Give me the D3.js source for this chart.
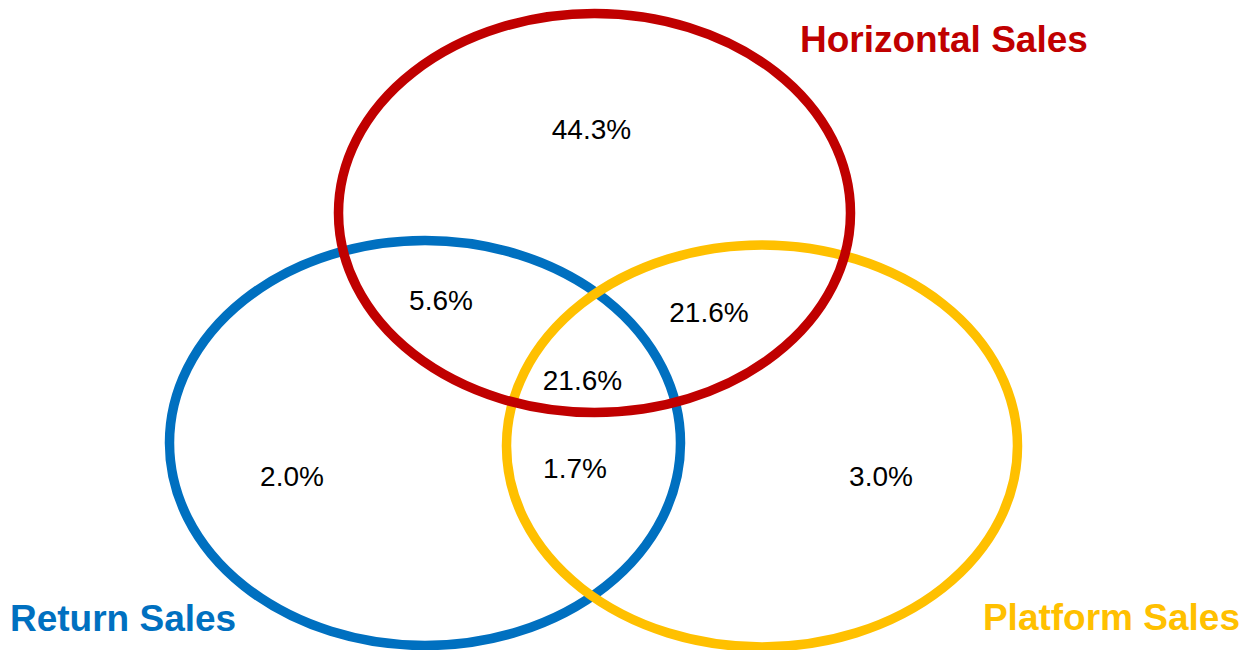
<!DOCTYPE html>
<html>
<head>
<meta charset="utf-8">
<script src="https://cdn.jsdelivr.net/npm/d3@7"></script>
<style>
  body { margin: 0; background: #fff; }
  text { font-family: "Liberation Sans", Arial, sans-serif; }
</style>
</head>
<body>
<div id="canvas"></div>
<script>
// sets and region shares
const setNames = ["Return Sales", "Platform Sales", "Horizontal Sales"];
const setColors = ["#0070C0", "#FFC000", "#C00000"];
const regionSets = [["H"], ["R", "H"], ["P", "H"], ["R", "P", "H"], ["R"], ["R", "P"], ["P"]];
const regionValues = [44.3, 5.6, 21.6, 21.6, 2.0, 1.7, 3.0];

const width = 1247, height = 650;

// layout in venn units, mapped through scales
const x = d3.scaleLinear().domain([0, 100]).range([0, width]);
const y = d3.scaleLinear().domain([0, 100]).range([0, height]);
const setKeys = ["R", "P", "H"];
const ellipseLayout = {
    R: {cx: 425 / width * 100, cy: 443 / height * 100},
    P: {cx: 762 / width * 100, cy: 446 / height * 100},
    H: {cx: 594.5 / width * 100, cy: 213 / height * 100}
};
const radii = {R: [255.5, 202.5], P: [255.5, 201], H: [256, 199.5]};
const labelLayout = [[591.5, 139], [441, 310], [709, 322], [582.5, 390], [292, 486], [575, 478], [881, 486]];
const titleLayout = {R: [10, 631, "start"], P: [1240, 630, "end"], H: [800, 52, "start"]};

let svg = d3.select("#canvas").append("svg").attr("width", width).attr("height", height);
svg.append("rect").attr("width", width).attr("height", height).attr("fill", "#ffffff");

// draw order: blue, yellow, red on top
svg.append("g").selectAll("ellipse")
    .data(setKeys)
    .enter().append("ellipse")
    .attr("cx", d => x(ellipseLayout[d].cx))
    .attr("cy", d => y(ellipseLayout[d].cy))
    .attr("rx", d => radii[d][0])
    .attr("ry", d => radii[d][1])
    .attr("fill", "none")
    .attr("stroke", (d, i) => setColors[i])
    .attr("stroke-width", 9.5);

svg.append("g").selectAll("text")
    .data(regionValues)
    .enter().append("text")
    .attr("x", (d, i) => labelLayout[i][0])
    .attr("y", (d, i) => labelLayout[i][1])
    .attr("text-anchor", "middle")
    .style("font-size", "28px")
    .attr("fill", "#000")
    .text(d => d.toFixed(1) + "%");

svg.append("g").selectAll("text")
    .data(setKeys)
    .enter().append("text")
    .attr("x", d => titleLayout[d][0])
    .attr("y", d => titleLayout[d][1])
    .attr("text-anchor", d => titleLayout[d][2])
    .style("font-size", "37px")
    .style("font-weight", "bold")
    .attr("fill", (d, i) => setColors[i])
    .text((d, i) => setNames[i]);
</script>
</body>
</html>
